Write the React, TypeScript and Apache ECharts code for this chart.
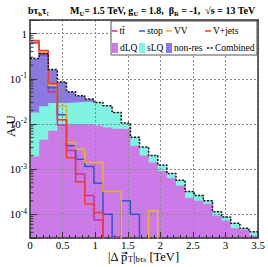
import React, { useEffect, useRef } from 'react';
import * as echarts from 'echarts';

// ---- data ----
const binEdges = [0, 0.14, 0.28, 0.42, 0.56, 0.7, 0.84, 0.98, 1.12, 1.26, 1.4, 1.54, 1.68, 1.82, 1.96, 2.1, 2.24, 2.38, 2.52, 2.66, 2.8, 2.94, 3.08, 3.22, 3.36, 3.5];

const dLQ = [0.0019, 0.0045, 0.0071, 0.0092, 0.01, 0.01, 0.01, 0.0092, 0.0084, 0.0078, 0.0076, 0.0033, 0.002, 0.0014, 0.00091, 0.00063, 0.00043, 0.00023, 0.0002, 0.00017, 0.000093, 0.000072, 0.000049, 0.000046, 0.000034];
const sLQ = [0.0161, 0.0201, 0.0219, 0.0198, 0.02, 0.021, 0.021, 0.0198, 0.0166, 0.0102, 0.0029, 0.0018, 0.0011, 0.0006, 0.00033, 0.00017, 0.00014, 0.00009, 0.00006, 0.00003, 0.000021, 0.000016, 0.000015, 0.000003, 0.000007];
const nonRes = [0.262, 0.335, 0.131, 0.056, 0.022, 0.011, 0.0046, 0.001, 0.0002, 0, 0, 0, 0, 0, 0, 0, 0, 0, 0, 0, 0, 0, 0, 0, 0];

const ttbar = [0.62, 0.34, 0.051, 0.0095, 0.0026, 0.00078, 0.00026, 0.000075, 0, 0.000032, 0, 0, 0, 0, 0, 0, 0, 0, 0, 0, 0, 0, 0, 0, 0];
const stop = [0.66, 0.37, 0.063, 0.016, 0.0033, 0.00166, 0.00115, 0.00049, 0.0001, 0, 0.0002, 0.0001, 0, 0, 0, 0, 0, 0, 0, 0, 0, 0, 0, 0, 0];
const VV = [0.68, 0.39, 0.0716, 0.025, 0.0039, 0.0028, 0.0014, 0.0014, 0.00032, 0.00032, 0, 0, 0, 0.00012, 0, 0, 0, 0, 0, 0, 0, 0, 0, 0, 0];
const Vjets = [0.7, 0.425, 0.079, 0.0124, 0.0018, 0.00053, 0.00017, 0.00011, 0, 0, 0, 0, 0, 0, 0, 0, 0, 0, 0, 0, 0, 0, 0, 0, 0];

const xTicks = [0, 0.5, 1, 1.5, 2, 2.5, 3, 3.5];
const yMinorTicks = [
  4e-5, 5e-5, 6e-5, 7e-5, 8e-5, 9e-5,
  2e-4, 3e-4, 4e-4, 5e-4, 6e-4, 7e-4, 8e-4, 9e-4,
  2e-3, 3e-3, 4e-3, 5e-3, 6e-3, 7e-3, 8e-3, 9e-3,
  2e-2, 3e-2, 4e-2, 5e-2, 6e-2, 7e-2, 8e-2, 9e-2,
  0.2, 0.3, 0.4, 0.5, 0.6, 0.7, 0.8, 0.9,
];

// ---- style ----
const FONT = "'Liberation Serif', 'Times New Roman', serif";
const C = {
  nonRes: '#8a7ae0',
  sLQ: '#80f2e2',
  dLQ: '#cc7ae8',
  ttbar: '#cc3399',
  stop: '#3355cc',
  VV: '#e8b428',
  Vjets: '#ee3a2a',
  frame: '#333333',
};

const TINY = 1e-9;
function stepData(vals: number[]) {
  return binEdges.map((e, i) => {
    const v = vals[Math.min(i, vals.length - 1)];
    return [e, v > 0 ? v : TINY];
  });
}

export default function App() {
  const ref = useRef<HTMLDivElement>(null);
  useEffect(() => {
    if (!ref.current) return;
    const chart = echarts.init(ref.current, null, { renderer: 'svg' });

    const sumDS = dLQ.map((d, i) => d + sLQ[i]);
    const total = sumDS.map((s, i) => s + nonRes[i]);

    const areaSeries = (name: string, vals: number[], color: string) => ({
      name,
      type: 'line',
      step: 'end',
      data: stepData(vals),
      symbol: 'none',
      lineStyle: { width: 0, opacity: 0 },
      areaStyle: { color, opacity: 1, origin: 'start' },
      z: 1,
      silent: true,
    });
    const lineSeries = (name: string, vals: number[], color: string) => ({
      name,
      type: 'line',
      step: 'end',
      data: stepData(vals),
      symbol: 'none',
      lineStyle: { width: 1.5, color },
      z: 5,
      silent: true,
    });

    const legendItems: any[] = [];
    const rowY1 = 31;
    const rowY2 = 48;
    const lineEntry = (x: number, y: number, color: string, label: string, dash?: number[]) => {
      legendItems.push({
        type: 'line',
        shape: { x1: x, y1: y, x2: x + 6, y2: y },
        style: { stroke: color, lineWidth: 1.5, lineDash: dash },
        z: 100,
      });
      legendItems.push({
        type: 'text',
        x: x + 8,
        y,
        style: { text: label, fill: '#000', font: `9.5px ${FONT}`, textVerticalAlign: 'middle' },
        z: 100,
      });
    };
    const boxEntry = (x: number, y: number, color: string, label: string) => {
      legendItems.push({
        type: 'rect',
        shape: { x, y: y - 5, width: 6, height: 10 },
        style: { fill: color },
        z: 100,
      });
      legendItems.push({
        type: 'text',
        x: x + 8,
        y,
        style: { text: label, fill: '#000', font: `9.5px ${FONT}`, textVerticalAlign: 'middle' },
        z: 100,
      });
    };

    legendItems.push({
      type: 'rect',
      shape: { x: 111, y: 21, width: 146, height: 34 },
      style: { fill: '#ffffff', stroke: '#555', lineWidth: 1 },
      z: 99,
    });
    lineEntry(111.5, rowY1, C.ttbar, 'tt\u0304');
    lineEntry(139, rowY1, C.stop, 'stop');
    lineEntry(166, rowY1, C.VV, 'VV');
    lineEntry(205, rowY1, C.Vjets, 'V+jets');
    boxEntry(112, rowY2, C.dLQ, 'dLQ');
    boxEntry(139, rowY2, C.sLQ, 'sLQ');
    boxEntry(166, rowY2, C.nonRes, 'non-res');
    lineEntry(207, rowY2, '#111', 'Combined', [2, 1.5]);

    const option: any = {
      animation: false,
      backgroundColor: '#ffffff',
      grid: { left: 30, top: 20, right: 9, bottom: 29, containLabel: false },
      xAxis: [
        {
          type: 'value',
          min: 0,
          max: 3.5,
          interval: 0.5,
          position: 'bottom',
          z: 3,
          axisLine: { show: true, onZero: false, lineStyle: { color: C.frame, width: 1.5 } },
          axisTick: { show: true, inside: true, length: 6, lineStyle: { color: C.frame, width: 1 } },
          minorTick: { show: true, splitNumber: 5, length: 3, lineStyle: { color: C.frame, width: 1 } },
          axisLabel: {
            fontFamily: FONT,
            fontSize: 11,
            lineHeight: 10,
            color: '#000',
            margin: 2,
            formatter: (v: number) => {
              const t = xTicks.find((x) => Math.abs(x - v) < 1e-6);
              return t === undefined ? '' : String(t);
            },
          },
          splitLine: { show: true, lineStyle: { color: '#8a8a8a', type: [2, 2], width: 1 } },
        },
        {
          type: 'value',
          min: 0,
          max: 3.5,
          interval: 0.5,
          position: 'top',
          z: 3,
          axisLine: { show: true, onZero: false, lineStyle: { color: C.frame, width: 1.5 } },
          axisTick: { show: false },
          axisLabel: { show: false },
          splitLine: { show: false },
        },
      ],
      yAxis: [
        {
          type: 'log',
          logBase: 10,
          min: 3e-5,
          max: 2,
          position: 'left',
          z: 3,
          axisLine: { show: true, onZero: false, lineStyle: { color: C.frame, width: 1.5 } },
          axisTick: { show: true, inside: true, length: 7, lineStyle: { color: C.frame, width: 1 } },
          axisLabel: {
            color: '#000',
            margin: 3,
            formatter: (v: number) => {
              const l = Math.log10(v);
              const n = Math.round(l);
              if (Math.abs(l - n) > 1e-6) return '';
              if (n === 0) return '{b|1}';
              return `{b|10}{s|${n}}`;
            },
            rich: {
              b: { fontFamily: FONT, fontSize: 11, color: '#000', lineHeight: 14 },
              s: { fontFamily: FONT, fontSize: 7.5, color: '#000', lineHeight: 8, verticalAlign: 'top' },
            },
          },
          splitLine: { show: true, lineStyle: { color: '#8a8a8a', type: [2, 2], width: 1 } },
        },
        {
          type: 'log',
          logBase: 10,
          min: 3e-5,
          max: 2,
          position: 'right',
          z: 3,
          axisLine: { show: true, onZero: false, lineStyle: { color: C.frame, width: 1.5 } },
          axisTick: { show: false },
          axisLabel: { show: false },
          splitLine: { show: false },
        },
      ],
      series: [
        areaSeries('non-res', total, C.nonRes),
        areaSeries('sLQ', sumDS, C.sLQ),
        areaSeries('dLQ', dLQ, C.dLQ),
        lineSeries('tt\u0304', ttbar, C.ttbar),
        lineSeries('stop', stop, C.stop),
        lineSeries('VV', VV, C.VV),
        lineSeries('V+jets', Vjets, C.Vjets),
        {
          name: 'Combined',
          type: 'line',
          step: 'end',
          data: stepData(total),
          symbol: 'none',
          lineStyle: { width: 1.5, color: '#111', type: [2, 1.5] },
          z: 6,
          silent: true,
        },
        {
          name: 'yMinorTicks',
          type: 'custom',
          coordinateSystem: 'cartesian2d',
          data: yMinorTicks.map((v) => [0, v]),
          clip: false,
          z: 6,
          silent: true,
          renderItem: (params: any, api: any) => {
            const p = api.coord([0, api.value(1)]);
            return {
              type: 'line',
              shape: { x1: p[0], y1: p[1], x2: p[0] + 3.5, y2: p[1] },
              style: { stroke: C.frame, lineWidth: 1 },
            };
          },
        },
      ],
      graphic: [
        {
          type: 'text',
          x: 28,
          y: 3,
          style: {
            text: '{b|b\u03c4}{s|h}{b|\u03c4}{s|\u2113}',
            textVerticalAlign: 'top',
            rich: {
              b: { fontFamily: FONT, fontSize: 10, fontWeight: 'bold', lineHeight: 14, fill: '#000' },
              s: { fontFamily: FONT, fontSize: 6.5, fontWeight: 'bold', lineHeight: 7, verticalAlign: 'bottom', fill: '#000' },
            },
          },
        },
        {
          type: 'text',
          x: 70,
          y: 3,
          style: {
            text: '{b|M}{s|U}{b|= 1.5 TeV, g}{s|U}{b| = 1.8,  \u03b2}{s|R}{b| = -1,  \u221as = 13 TeV}',
            textVerticalAlign: 'top',
            rich: {
              b: { fontFamily: FONT, fontSize: 10, fontWeight: 'bold', lineHeight: 14, fill: '#000' },
              s: { fontFamily: FONT, fontSize: 6.5, fontWeight: 'bold', lineHeight: 7, verticalAlign: 'bottom', fill: '#000' },
            },
          },
        },
        {
          type: 'text',
          x: 108,
          y: 257,
          style: {
            text: '{a||\u0394 p}{s|T}{a||}{s|b\u03c4}{ss|h}{a| [TeV]}',
            textAlign: 'left',
            textVerticalAlign: 'middle',
            rich: {
              a: { fontFamily: FONT, fontSize: 12.5, lineHeight: 12, fill: '#000' },
              s: { fontFamily: FONT, fontSize: 8.5, lineHeight: 6, verticalAlign: 'bottom', fill: '#000' },
              ss: { fontFamily: FONT, fontSize: 6, lineHeight: 3, verticalAlign: 'bottom', fill: '#000' },
            },
          },
        },
        {
          type: 'line',
          shape: { x1: 121.5, y1: 253, x2: 126.5, y2: 253 },
          style: { stroke: '#000', lineWidth: 0.8 },
        },
        {
          type: 'polygon',
          shape: { points: [[128, 253], [125.5, 251.6], [125.5, 254.4]] },
          style: { fill: '#000' },
        },
        {
          type: 'text',
          x: 10,
          y: 126,
          rotation: Math.PI / 2,
          style: {
            text: 'A.U',
            font: `13px ${FONT}`,
            fill: '#000',
            textAlign: 'center',
            textVerticalAlign: 'middle',
          },
        },
        ...legendItems,
      ],
    };

    chart.setOption(option);
    return () => chart.dispose();
  }, []);

  return (
    <div
      ref={ref}
      style={{ position: 'fixed', left: 0, top: 0, width: 268, height: 267, background: '#fff' }}
    />
  );
}
